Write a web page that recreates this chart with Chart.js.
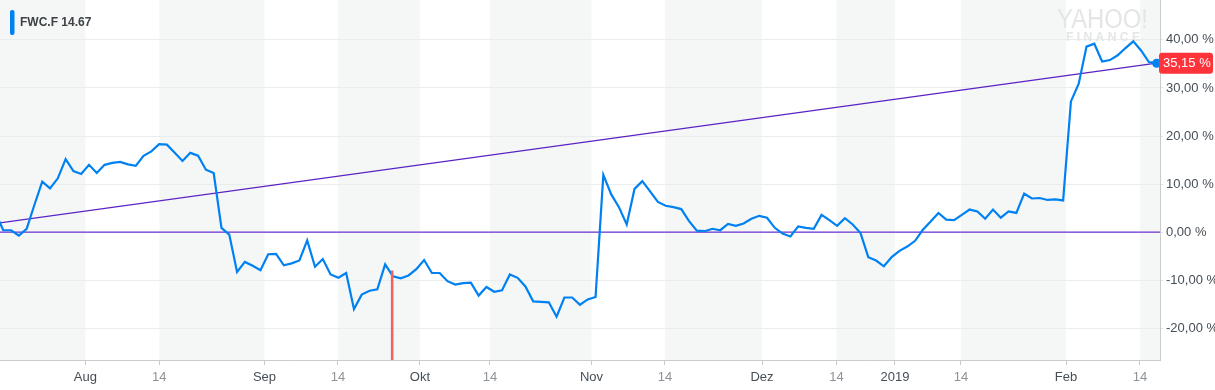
<!DOCTYPE html>
<html><head><meta charset="utf-8">
<script src="https://cdn.jsdelivr.net/npm/chart.js@4.4.1/dist/chart.umd.min.js"></script>
<style>html,body{margin:0;padding:0;background:#fff;overflow:hidden}#wrap{width:1215px;height:390px}</style>
</head><body><div id="wrap"><canvas id="c" width="1215" height="390"></canvas></div>
<script>
// ---- data ----
const symbol = 'FWC.F';
const lastPrice = '14.67';
// percent change per trading day (first value lies just left of the visible window)
const values = [
  4.0,
  0.4, 0.4, -0.7, 0.7, 5.7, 10.5, 9.1, 11.2, 15.2, 12.7,
  12.1, 14.0, 12.3, 14.0, 14.4, 14.6, 14.1, 13.8, 15.9, 16.8,
  18.3, 18.2, 16.5, 14.8, 16.5, 15.9, 13.0, 12.3, 0.9, -0.5,
  -8.3, -6.2, -7.0, -7.9, -4.6, -4.5, -6.9, -6.5, -5.9, -1.7,
  -7.2, -5.6, -8.8, -9.5, -8.5, -16.0, -13.0, -12.2, -11.9, -6.7,
  -9.2, -9.6, -9.0, -7.7, -5.8, -8.5, -8.5, -10.2, -10.9, -10.6,
  -10.5, -13.2, -11.4, -12.4, -12.1, -8.8, -9.5, -11.3, -14.4, -14.5,
  -14.6, -17.6, -13.6, -13.6, -15.1, -14.0, -13.5, 11.9, 7.9, 5.2,
  1.6, 9.0, 10.6, 8.5, 6.3, 5.5, 5.2, 4.8, 2.3, 0.3,
  0.2, 0.7, 0.4, 1.7, 1.3, 1.8, 2.8, 3.4, 3.0, 0.9,
  -0.3, -0.9, 1.2, 0.9, 0.7, 3.6, 2.5, 1.3, 2.9, 1.6,
  -0.2, -5.2, -5.9, -7.1, -5.2, -3.9, -3.0, -1.8, 0.5, 2.2,
  4.0, 2.6, 2.5, 3.6, 4.7, 4.3, 2.8, 4.7, 3.0, 4.3,
  4.0, 8.0, 7.0, 7.1, 6.7, 6.8, 6.6, 27.2, 30.9, 38.6,
  39.2, 35.5, 35.8, 36.8, 38.3, 39.7, 37.8, 35.4, 35.15
];
const tickPositions = [11.54, 21.02, 34.52, 43.95, 54.47, 63.45, 76.48, 85.91, 98.36, 107.92, 115.42, 123.89, 137.37, 146.86];
const tickLabels = ['Aug', '14', 'Sep', '14', 'Okt', '14', 'Nov', '14', 'Dez', '14', '2019', '14', 'Feb', '14'];
const yTickValues = [-20, -10, 0, 10, 20, 30, 40];
const trendValues = [1.8, 35.15];
const eventPositions = [50.9];
const eventTops = [-8.0];
const xView = [0.58, 149.43];
const yView = [-26.6, 48.3];

// ---- helpers ----
const fmt = v => v.toFixed(2).replace('.', ',') + ' %';
const lastIdx = values.length - 1;
const lineData = values.map((v, i) => ({x: i, y: v}));
const trendData = [{x: 0, y: trendValues[0]}, {x: lastIdx, y: trendValues[1]}];
const zeroData = [{x: xView[0], y: 0}, {x: xView[1], y: 0}];
const eventData = [{x: eventPositions[0], y: eventTops[0]}, {x: eventPositions[0], y: yView[0]}];
const FONT = "'Liberation Sans', Arial, Helvetica, sans-serif";
Chart.defaults.font.family = FONT;

const decor = {
  id: 'decor',
  beforeDraw(chart) {
    const {ctx, chartArea: a, scales: {x}} = chart;
    const bounds = [xView[0], ...tickPositions, xView[1]];
    ctx.save();
    ctx.fillStyle = '#f5f7f7';
    for (let i = 0; i < bounds.length - 1; i += 2) {
      const x0 = Math.max(a.left, x.getPixelForValue(bounds[i]));
      const x1 = Math.min(a.right, x.getPixelForValue(bounds[i + 1]));
      ctx.fillRect(x0, a.top, x1 - x0, a.bottom - a.top);
    }
    ctx.restore();
  },
  beforeDatasetsDraw(chart) {
    const {ctx} = chart;
    ctx.save();
    ctx.fillStyle = '#e3e5e6';
    ctx.textBaseline = 'alphabetic';
    ctx.font = "30px 'Liberation Sans Narrow', " + FONT;
    let w = ctx.measureText('YAHOO!').width;
    ctx.save(); ctx.translate(1057, 28); ctx.scale(91 / w, 0.9); ctx.fillText('YAHOO!', 0, 0); ctx.restore();
    ctx.font = "bold 12px " + FONT;
    const txt = 'F I N A N C E';
    w = ctx.measureText(txt).width;
    ctx.save(); ctx.translate(1066, 41); ctx.scale(74 / w, 1); ctx.fillText(txt, 0, 0); ctx.restore();
    ctx.restore();
  },
  afterDraw(chart) {
    const {ctx, scales: {y}} = chart;
    ctx.save();
    // legend chip
    ctx.fillStyle = '#0081f2';
    ctx.beginPath(); ctx.roundRect(10, 10, 4.5, 25, 2); ctx.fill();
    ctx.fillStyle = '#3d4247';
    ctx.font = 'bold 12px ' + FONT;
    ctx.textBaseline = 'middle';
    ctx.fillText(symbol + ' ' + lastPrice, 20, 22.5);
    // current value label
    const py = y.getPixelForValue(values[lastIdx]);
    ctx.fillStyle = '#ff333a';
    ctx.beginPath(); ctx.roundRect(1159, py - 10.5, 54, 21, 3); ctx.fill();
    ctx.fillStyle = '#ffffff';
    ctx.font = '13px ' + FONT;
    ctx.fillText(fmt(values[lastIdx]), 1163, py + 0.5);
    ctx.restore();
  }
};

new Chart(document.getElementById('c'), {
  type: 'line',
  data: {
    datasets: [
      {data: eventData, borderColor: '#f0625f', borderWidth: 2.5, pointRadius: 0, clip: 0},
      {data: lineData, borderColor: '#0081f2', backgroundColor: '#0081f2', borderWidth: 2.2,
       pointRadius: c => c.dataIndex === lastIdx ? 4.5 : 0, pointBorderWidth: 0,
       tension: 0, clip: {left: 0, right: 6, top: 2, bottom: 0}},
      {data: trendData, borderColor: '#5a22c4', borderWidth: 1.3, pointRadius: 0, clip: 0},
      {data: zeroData, borderColor: '#6a34d0', borderWidth: 1.4, pointRadius: 0, clip: 0}
    ]
  },
  options: {
    responsive: false, animation: false, devicePixelRatio: 1,
    layout: {padding: 0, autoPadding: false},
    plugins: {legend: {display: false}, tooltip: {enabled: false}},
    scales: {
      x: {
        type: 'linear', min: xView[0], max: xView[1],
        afterBuildTicks: s => { s.ticks = tickPositions.map(v => ({value: v})); },
        afterFit: s => { s.height = 30; s.paddingLeft = 0; s.paddingRight = 0; },
        grid: {drawOnChartArea: false, tickLength: 5, color: '#c9cccf'},
        border: {color: '#c9cccf'},
        ticks: {
          autoSkip: false, maxRotation: 0, padding: 5, font: {size: 13},
          color: c => tickLabels[c.index] === '14' ? '#8e9399' : '#464e56',
          callback: (v, i) => tickLabels[i]
        }
      },
      y: {
        position: 'right', min: yView[0], max: yView[1],
        afterBuildTicks: s => { s.ticks = yTickValues.map(v => ({value: v})); },
        afterFit: s => { s.width = 55; s.paddingTop = 0; s.paddingBottom = 0; },
        grid: {color: '#ebeced', tickLength: 3, tickColor: '#e2e3e4'},
        border: {color: '#c9cccf'},
        ticks: {padding: 3, font: {size: 13}, color: '#464e56', callback: v => fmt(v)}
      }
    }
  },
  plugins: [decor]
});
</script></body></html>
